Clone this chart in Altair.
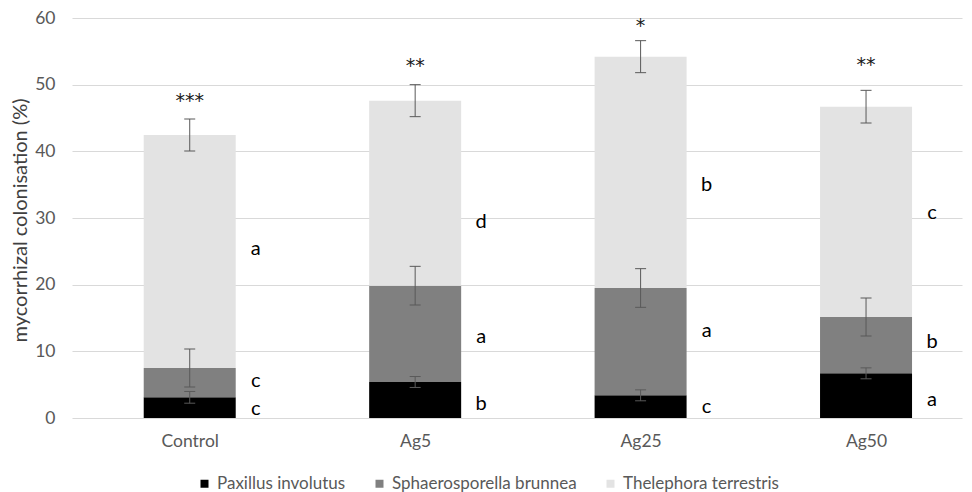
import json
import pandas as pd
import altair as alt

categories = ["Control", "Ag5", "Ag25", "Ag50"]
species = ["Paxillus involutus", "Sphaerosporella brunnea", "Thelephora terrestris"]
colors = ["#000000", "#808080", "#e3e3e3"]

# segment heights (%)
paxillus = [3.1, 5.4, 3.4, 6.7]
sphaero = [4.4, 14.45, 16.1, 8.45]
thelephora = [34.95, 27.75, 34.7, 31.55]
# standard errors
se_pax = [0.88, 0.82, 0.82, 0.82]
se_sph = [2.85, 2.9, 2.9, 2.85]
se_the = [2.4, 2.4, 2.4, 2.45]
# significance letters and their baseline heights
letters_pax = ["c", "b", "c", "a"]
letters_sph = ["c", "a", "a", "b"]
letters_the = ["a", "d", "b", "c"]
letter_y_pax = [0.45, 1.2, 0.7, 1.8]
letter_y_sph = [4.7, 11.2, 12.1, 10.45]
letter_y_the = [24.45, 28.5, 34.05, 29.85]
# stars above bars
stars = ["***", "**", "*", "**"]
star_y = [48.45, 53.6, 59.7, 53.85]

series = [
    (species[0], paxillus, se_pax, letters_pax, letter_y_pax),
    (species[1], sphaero, se_sph, letters_sph, letter_y_sph),
    (species[2], thelephora, se_the, letters_the, letter_y_the),
]

rows = []
for i, c in enumerate(categories):
    cum = 0.0
    for k, (sp, vals, ses, lets, ly) in enumerate(series):
        bottom = cum
        cum += vals[i]
        rows.append(dict(idx=i, cat=c, species=sp, order=k, bottom=bottom, top=cum,
                         lo=cum - ses[i], hi=cum + ses[i], letter=lets[i], ly=ly[i]))
df = pd.DataFrame(rows)
star_df = pd.DataFrame(dict(idx=list(range(len(categories))), star=stars, sy=star_y))

FONT = "Lato"
label_expr = json.dumps(categories) + "[datum.value]"

x_enc = alt.X("idx:Q",
              scale=alt.Scale(domain=[-0.5, 3.4035], nice=False, zero=False),
              axis=alt.Axis(values=[0, 1, 2, 3], labelExpr=label_expr, title=None,
                            grid=False, ticks=False, domain=False, labelPadding=14,
                            labelFontSize=17.5, labelColor="#595959", labelFont=FONT))

YTITLE = "mycorrhizal colonisation (%)"
y_scale = alt.Scale(domain=[0, 60], nice=False, zero=True)


def y_enc(field):
    return alt.Y(field, scale=y_scale, title=YTITLE,
                 axis=alt.Axis(values=list(range(0, 61, 10)), ticks=False, domain=False,
                               gridColor="#d9d9d9", gridWidth=1, labelFontSize=17.5,
                               labelColor="#595959", labelFont=FONT, labelPadding=17,
                               titleFont=FONT, titleFontSize=20, titleColor="#404040",
                               titleFontWeight="normal", titleAngle=270, titleX=-52,
                               titleY=202, titleAlign="center", titleBaseline="middle"))


bars = alt.Chart(df).mark_bar(size=92).encode(
    x=x_enc,
    y=y_enc("top:Q"),
    y2="bottom:Q",
    color=alt.Color("species:N", scale=alt.Scale(domain=species, range=colors),
                    legend=alt.Legend(orient="none", legendX=124, legendY=457,
                                      direction="horizontal", title=None,
                                      symbolType="square", symbolSize=64,
                                      symbolStrokeWidth=0, labelFont=FONT,
                                      labelFontSize=17, labelColor="#595959",
                                      labelLimit=400, columnPadding=25, labelOffset=4)),
    order=alt.Order("order:Q"),
)

err_color = "#595959"
err_v = alt.Chart(df).mark_rule(color=err_color, strokeWidth=1).encode(
    x="idx:Q", y=y_enc("lo:Q"), y2="hi:Q")
cap_hi = alt.Chart(df).mark_rule(color=err_color, strokeWidth=1, xOffset=-5.5, x2Offset=5.5).encode(
    x="idx:Q", x2="idx:Q", y=y_enc("hi:Q"))
cap_lo = alt.Chart(df).mark_rule(color=err_color, strokeWidth=1, xOffset=-5.5, x2Offset=5.5).encode(
    x="idx:Q", x2="idx:Q", y=y_enc("lo:Q"))

letters = alt.Chart(df).mark_text(dx=66, align="center", baseline="alphabetic",
                                  fontSize=20, font=FONT, color="#000000").encode(
    x="idx:Q", y=y_enc("ly:Q"), text="letter:N")

star_marks = alt.Chart(star_df).mark_text(align="center", baseline="alphabetic", dy=11.5,
                                          fontSize=19, font="DejaVu Sans", color="#1a1a1a").encode(
    x="idx:Q", y=y_enc("sy:Q"), text="star:N")

chart = alt.layer(bars, err_v, cap_hi, cap_lo, letters, star_marks).properties(
    width=890, height=400,
    autosize=alt.AutoSizeParams(type="none"),
    padding={"left": 64, "top": 10, "right": 2, "bottom": 74},
    background="white",
).configure_view(stroke=None)

chart.save("out.html", embed_options={"renderer": "svg", "actions": False})
